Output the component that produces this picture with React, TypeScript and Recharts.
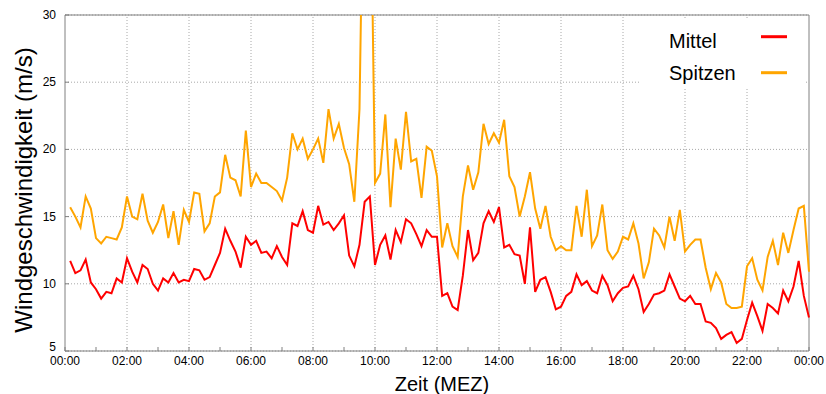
import {
  LineChart,
  Line,
  XAxis,
  YAxis,
  CartesianGrid,
  ReferenceLine,
  ReferenceArea,
  Legend,
} from "recharts";

const FONT = '"Liberation Sans", Arial, Helvetica, sans-serif';
const BORDER = "#808080";
const GRID = "#a8a8a8";

// 10-minute values from 00:10 to 24:00 (m/s)
const mittel = [
  11.7, 10.8, 11.0, 11.8, 10.1, 9.6, 8.9, 9.4, 9.3, 10.4, 10.1, 11.9,
  10.9, 10.1, 11.4, 11.1, 10.0, 9.5, 10.4, 10.1, 10.8, 10.1, 10.3, 10.2,
  11.1, 11.0, 10.3, 10.5, 11.4, 12.3, 14.1, 13.2, 12.4, 11.2, 13.5, 12.9,
  13.2, 12.3, 12.4, 11.9, 12.8, 12.0, 11.4, 14.5, 14.3, 15.4, 14.0, 13.8,
  15.8, 14.4, 14.6, 14.0, 14.5, 15.1, 12.1, 11.3, 12.9, 16.1, 16.5, 11.4,
  12.9, 13.6, 11.8, 14.0, 13.1, 14.8, 14.5, 13.7, 12.8, 14.0, 13.5, 13.5,
  9.1, 9.3, 8.3, 8.05, 10.6, 14.0, 11.75, 12.3, 14.5, 15.4, 14.6, 15.7,
  12.7, 12.9, 12.2, 12.1, 10.0, 14.2, 9.4, 10.3, 10.5, 9.4, 8.1, 8.3,
  9.1, 9.4, 10.7, 9.9, 10.2, 9.5, 9.3, 10.6, 9.9, 8.7, 9.3, 9.7,
  9.8, 10.6, 9.6, 7.9, 8.5, 9.2, 9.3, 9.5, 10.7, 9.8, 8.9, 8.7,
  9.1, 8.5, 8.5, 7.2, 7.1, 6.7, 5.9, 6.2, 6.4, 5.6, 5.9, 7.3,
  8.6, 7.6, 6.5, 8.5, 8.2, 7.8, 9.5, 8.7, 9.8, 11.7, 9.1, 7.5,
];

const spitzen = [
  15.7, 15.0, 14.2, 16.5, 15.6, 13.4, 13.0, 13.5, 13.4, 13.3, 14.2, 16.5,
  15.0, 14.8, 16.7, 14.7, 13.8, 14.6, 15.9, 13.4, 15.4, 12.9, 15.5, 14.6,
  16.8, 16.7, 13.9, 14.5, 16.5, 16.8, 19.6, 17.9, 17.7, 16.5, 21.4, 17.2,
  18.2, 17.5, 17.5, 17.2, 16.9, 16.2, 17.9, 21.2, 20.0, 20.8, 19.3, 20.0,
  20.8, 19.0, 23.0, 20.8, 21.9, 20.1, 18.9, 16.1, 23.0, 48.0, 45.0, 17.5,
  18.2, 22.6, 15.7, 20.8, 18.5, 22.8, 19.1, 19.3, 16.4, 20.2, 19.9, 18.0,
  12.7, 14.5, 12.8, 12.0, 16.5, 18.8, 17.0, 18.3, 21.9, 20.4, 21.2, 20.5,
  22.2, 18.0, 17.2, 15.0, 16.5, 18.3, 15.6, 14.1, 15.8, 13.5, 12.5, 12.8,
  12.5, 12.5, 15.8, 13.5, 17.0, 12.8, 13.6, 15.9, 12.5, 11.85, 12.4, 13.5,
  13.3, 14.5, 13.0, 10.4, 11.6, 14.1, 13.6, 12.7, 15.0, 13.2, 15.5, 12.4,
  12.9, 13.3, 13.3, 11.2, 9.6, 10.8, 10.1, 8.5, 8.2, 8.2, 8.3, 11.3,
  11.9, 10.3, 9.5, 12.0, 13.2, 11.4, 13.8, 12.3, 14.0, 15.6, 15.8, 10.9,
];

// minutes since midnight
const hourTicks = [
  0, 60, 120, 180, 240, 300, 360, 420, 480, 540, 600, 660, 720, 780, 840,
  900, 960, 1020, 1080, 1140, 1200, 1260, 1320, 1380, 1440,
];
const gridHours = [120, 240, 360, 480, 600, 720, 840, 960, 1080, 1200, 1320];
const yTicks = [5, 10, 15, 20, 25, 30];

const rows = mittel.map((m, i) => ({
  t: (i + 1) * 10,
  mittel: m,
  spitzen: spitzen[i],
}));

const fmtTime = (min: number) =>
  `${String(Math.floor(min / 60) % 24).padStart(2, "0")}:00`;

const BottomTick = ({ x, y, payload }: any) => {
  const v = payload.value as number;
  return (
    <g>
      <line x1={x} x2={x} y1={y} y2={y - 4} stroke={BORDER} />
      {v % 120 === 0 && (
        <text x={x} y={y + 14} textAnchor="middle" fontSize={12} fontFamily={FONT} fill="#000">
          {fmtTime(v)}
        </text>
      )}
    </g>
  );
};

const TopTick = ({ x, y }: any) => (
  <line x1={x} x2={x} y1={y} y2={y + 4} stroke={BORDER} />
);

// the lowest label sits a little above its tick so it clears the time labels
const LeftTick = ({ x, y, payload }: any) => (
  <g>
    <line x1={x} x2={x + 4} y1={y} y2={y} stroke={BORDER} />
    <text
      x={x - 9}
      y={y + (payload.value === 5 ? 0 : 4)}
      textAnchor="end"
      fontSize={12}
      fontFamily={FONT}
      fill="#000"
    >
      {payload.value}
    </text>
  </g>
);

const RightTick = ({ x, y }: any) => (
  <line x1={x} x2={x - 4} y1={y} y2={y} stroke={BORDER} />
);

const LegendBox = ({ payload }: any) => (
  <svg width={163} height={68} style={{ display: "block", background: "#fff" }}>
    {(payload || []).map((e: any, i: number) => (
      <g key={e.value}>
        <text x={28} y={28 + i * 32} fontSize={20} fontFamily={FONT} fill="#000">
          {e.value}
        </text>
        <line
          x1={120}
          x2={146}
          y1={16.7 + i * 36}
          y2={16.7 + i * 36}
          stroke={e.color}
          strokeWidth={3}
        />
      </g>
    ))}
  </svg>
);

export default function App() {
  return (
    <div style={{ position: "absolute", left: 0, top: 0, background: "#fff" }}>
      <LineChart
        width={826}
        height={394}
        data={rows}
        margin={{ top: 15, right: 17, bottom: 0, left: 0 }}
      >
        <CartesianGrid
          xAxisId="b"
          yAxisId="l"
          vertical={false}
          stroke={GRID}
          strokeDasharray="1 2"
        />
        <XAxis
          xAxisId="b"
          dataKey="t"
          type="number"
          domain={[0, 1440]}
          ticks={hourTicks}
          interval={0}
          height={43}
          axisLine={false}
          tickLine={false}
          tickSize={0}
          tickMargin={0}
          tick={(p: any) => <BottomTick {...p} />}
          label={(p: any) => {
            const vb = p.viewBox;
            return (
              <text
                x={vb.x + vb.width / 2 + 5}
                y={vb.y + 40}
                textAnchor="middle"
                fontSize={20}
                fontFamily={FONT}
                fill="#000"
              >
                Zeit (MEZ)
              </text>
            );
          }}
        />
        <XAxis
          xAxisId="t"
          orientation="top"
          type="number"
          domain={[0, 1440]}
          ticks={hourTicks}
          interval={0}
          height={0}
          axisLine={false}
          tickLine={false}
          tickSize={0}
          tickMargin={0}
          tick={(p: any) => <TopTick {...p} />}
        />
        <YAxis
          yAxisId="l"
          type="number"
          domain={[5, 30]}
          ticks={yTicks}
          interval={0}
          allowDataOverflow
          width={65}
          axisLine={false}
          tickLine={false}
          tickSize={0}
          tickMargin={0}
          tick={(p: any) => <LeftTick {...p} />}
          label={(p: any) => {
            const vb = p.viewBox;
            const cx = vb.x + 32;
            const cy = vb.y + vb.height / 2 + 7;
            return (
              <text
                x={cx}
                y={cy}
                transform={`rotate(-90, ${cx}, ${cy})`}
                textAnchor="middle"
                fontSize={24}
                fontFamily={FONT}
                fill="#000"
              >
                Windgeschwindigkeit (m/s)
              </text>
            );
          }}
        />
        <YAxis
          yAxisId="r"
          orientation="right"
          type="number"
          domain={[5, 30]}
          ticks={yTicks}
          interval={0}
          width={0}
          axisLine={false}
          tickLine={false}
          tickSize={0}
          tickMargin={0}
          tick={(p: any) => <RightTick {...p} />}
        />
        {gridHours.map((h) => (
          <ReferenceLine
            key={h}
            xAxisId="b"
            yAxisId="l"
            x={h}
            stroke={GRID}
            strokeDasharray="1 2"
          />
        ))}
        <Line
          xAxisId="b"
          yAxisId="l"
          name="Mittel"
          dataKey="mittel"
          stroke="#ff0000"
          strokeWidth={2}
          dot={false}
          activeDot={false}
          isAnimationActive={false}
        />
        <Line
          xAxisId="b"
          yAxisId="l"
          name="Spitzen"
          dataKey="spitzen"
          stroke="#ffa500"
          strokeWidth={2}
          dot={false}
          activeDot={false}
          isAnimationActive={false}
        />
        <ReferenceArea
          xAxisId="b"
          yAxisId="l"
          x1={0}
          x2={1440}
          y1={5}
          y2={30}
          fill="none"
          stroke={BORDER}
        />
        <Legend
          layout="vertical"
          align="center"
          verticalAlign="middle"
          content={<LegendBox />}
          wrapperStyle={{ left: 641, top: 20, width: 163, height: 68 }}
        />
      </LineChart>
    </div>
  );
}
